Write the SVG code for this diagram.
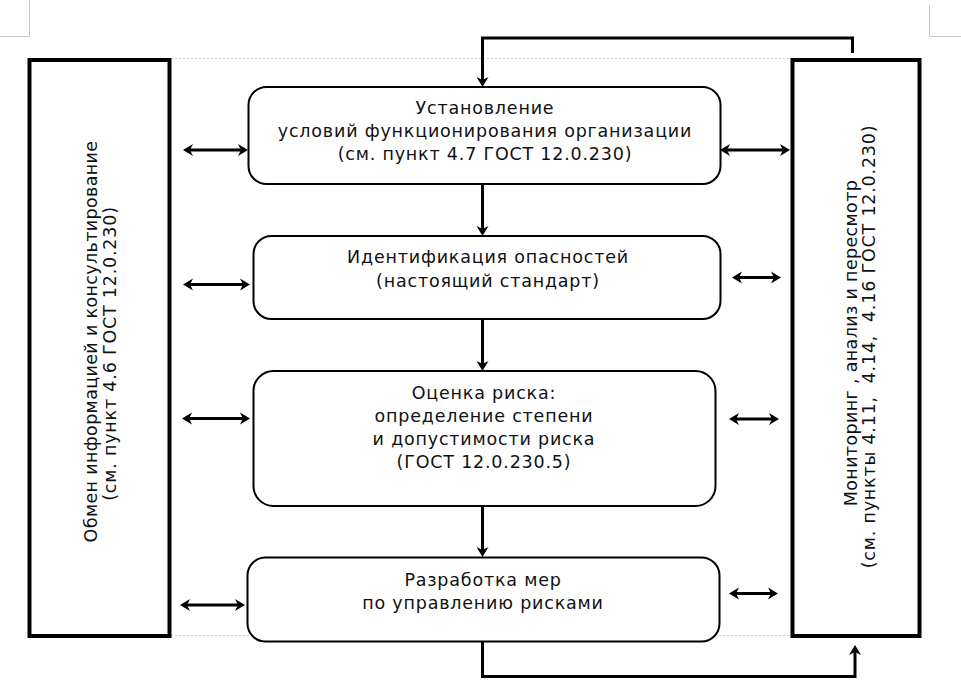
<svg xmlns="http://www.w3.org/2000/svg" width="961" height="699" viewBox="0 0 961 699">
<defs>
<style>
.page{fill:none;stroke:#c8c8c8;stroke-width:1}
.margin{fill:none;stroke:#cfcfcf;stroke-width:1;stroke-dasharray:2 2}
.side{fill:#fff;stroke:#000;stroke-width:4}
.node{fill:#fff;stroke:#000;stroke-width:2}
.t{font-family:"DejaVu Sans","Noto Sans",sans-serif;font-size:17.5px;letter-spacing:0.8px;fill:#111;text-anchor:middle}
.n{letter-spacing:0.35px}
.c{fill:none;stroke:#000;stroke-width:3}
.d{fill:none;stroke:#000;stroke-width:3}
</style>
<marker id="ah" viewBox="-1 -7 13 14" refX="3" refY="0" markerWidth="13" markerHeight="14" markerUnits="userSpaceOnUse" orient="auto-start-reverse">
<path d="M0,-6 L10,0 L0,6 L3,0 z" fill="#000"/>
</marker>
</defs>
<rect width="961" height="699" fill="#fff"/>
<g id="page-marks">
<path class="page" d="M29.5,0 V36.5 H0"/>
<path class="page" d="M929.5,5 V36.5 H961"/>
<path class="margin" d="M171,58.5 H792"/>
<path class="margin" d="M171,635.5 H792"/>
</g>
<g id="connectors">
<path class="c" d="M852.5,53 V38 H482.5 V80" marker-end="url(#ah)"/>
<path class="c" d="M482.5,185 V229" marker-end="url(#ah)"/>
<path class="c" d="M482.5,320 V364" marker-end="url(#ah)"/>
<path class="c" d="M482.5,506 V550" marker-end="url(#ah)"/>
<path class="c" d="M482.5,642 V676.5 H855 V652" marker-end="url(#ah)"/>
<path class="d" d="M190,150 H241" marker-start="url(#ah)" marker-end="url(#ah)"/>
<path class="d" d="M190,284.5 H243" marker-start="url(#ah)" marker-end="url(#ah)"/>
<path class="d" d="M189,418.5 H243" marker-start="url(#ah)" marker-end="url(#ah)"/>
<path class="d" d="M187,605 H238" marker-start="url(#ah)" marker-end="url(#ah)"/>
<path class="d" d="M727,150 H783" marker-start="url(#ah)" marker-end="url(#ah)"/>
<path class="d" d="M739,277.5 H774" marker-start="url(#ah)" marker-end="url(#ah)"/>
<path class="d" d="M736,419 H772" marker-start="url(#ah)" marker-end="url(#ah)"/>
<path class="d" d="M736,593.5 H771" marker-start="url(#ah)" marker-end="url(#ah)"/>
</g>
<g id="left-box">
<rect class="side" x="29.5" y="60" width="140" height="576"/>
<text class="t n" transform="translate(97,341.5) rotate(-90)">Обмен информацией и консультирование</text>
<text class="t" transform="translate(116,353.5) rotate(-90)">(см. пункт 4.6 ГОСТ 12.0.230)</text>
</g>
<g id="right-box">
<rect class="side" x="792.5" y="60" width="127" height="576"/>
<text class="t n" transform="translate(857,343) rotate(-90)">Мониторинг , анализ и пересмотр</text>
<text class="t" transform="translate(875,346.5) rotate(-90)" xml:space="preserve">(см. пункты 4.11,  4.14,  4.16 ГОСТ 12.0.230)</text>
</g>
<g id="node-1">
<rect class="node" x="248.5" y="87" width="472" height="97" rx="18"/>
<text class="t" x="485" y="114">Установление</text>
<text class="t" x="485" y="137">условий функционирования организации</text>
<text class="t" x="485" y="160">(см. пункт 4.7 ГОСТ 12.0.230)</text>
</g>
<g id="node-2">
<rect class="node" x="253.5" y="236" width="467" height="83" rx="18"/>
<text class="t" x="488" y="263">Идентификация опасностей</text>
<text class="t" x="488" y="287">(настоящий стандарт)</text>
</g>
<g id="node-3">
<rect class="node" x="253.5" y="371" width="462" height="135" rx="20"/>
<text class="t" x="484" y="399">Оценка риска:</text>
<text class="t" x="484" y="422">определение степени</text>
<text class="t" x="484" y="445">и допустимости риска</text>
<text class="t" x="484" y="468">(ГОСТ 12.0.230.5)</text>
</g>
<g id="node-4">
<rect class="node" x="247.5" y="557.5" width="472" height="84" rx="18"/>
<text class="t" x="483" y="586">Разработка мер</text>
<text class="t" x="483" y="609">по управлению рисками</text>
</g>
</svg>
